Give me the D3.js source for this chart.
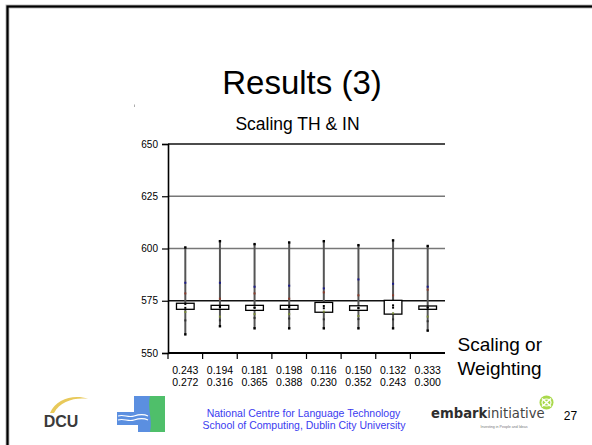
<!DOCTYPE html>
<html>
<head>
<meta charset="utf-8">
<script src="https://cdn.jsdelivr.net/npm/d3@7"></script>
<style>
  html, body { margin: 0; padding: 0; background: #fff; }
  svg { display: block; }
</style>
</head>
<body>
<svg id="slide" width="592" height="445"></svg>
<script>
// Scaling / weighting pairs shown under each box
const scalingLabels   = ["0.243", "0.194", "0.181", "0.198", "0.116", "0.150", "0.132", "0.333"];
const weightingLabels = ["0.272", "0.316", "0.365", "0.388", "0.230", "0.352", "0.243", "0.300"];

// Box plot summaries per configuration
const whiskerLow  = [558.9, 562.8, 561.8, 561.8, 561.8, 561.8, 561.8, 560.7];
const whiskerHigh = [600.5, 603.5, 602.1, 602.9, 603.5, 601.6, 603.9, 601.2];
const boxLow      = [570.9, 570.9, 570.4, 570.9, 569.5, 570.4, 568.6, 570.9];
const boxHigh     = [573.8, 572.8, 572.8, 572.8, 574.2, 572.6, 575.2, 572.5];
const medians     = [571.6, 571.8, 571.6, 571.8, 571.4, 571.4, 571.7, 571.6];
const means       = [573.4, 572.0, 571.8, 572.2, 572.5, 571.6, 572.8, 571.9];

// Individual run scores plotted along each whisker
const runsBlue  = [583.6, 583.6, 581.7, 582.2, 580.9, 585.2, 583.1, 581.7];
const runsRed   = [578.5, 576.0, 578.5, 576.0, 579.0, 577.6, 577.6, 580.3];
const runsGreen = [569.6, 567.4, 568.6, 568.6, 569.8, 567.7, 569.0, 567.4];
const runsDark  = [565.6, 565.6, 566.8, 566.5, 566.1, 566.2, 566.1, 565.2];

const yTicks = [550, 575, 600, 625, 650];

const svg = d3.select("#slide");
const FONT = "'Liberation Sans', Arial, Helvetica, sans-serif";

// Slide frame
svg.append("rect")
  .attr("x", 7.5).attr("y", 6.5).attr("width", 640).attr("height", 500)
  .attr("fill", "none").attr("stroke", "#bbb").attr("stroke-width", 4);
svg.append("rect")
  .attr("x", 7.5).attr("y", 6.5).attr("width", 640).attr("height", 500)
  .attr("fill", "none").attr("stroke", "#000").attr("stroke-width", 2.2);

// Titles
svg.append("text").attr("x", 302).attr("y", 93.5)
  .attr("text-anchor", "middle").attr("font-family", FONT)
  .attr("font-size", 33).attr("fill", "#000").text("Results (3)");
svg.append("text").attr("x", 297.5).attr("y", 130)
  .attr("text-anchor", "middle").attr("font-family", FONT)
  .attr("font-size", 17.5).attr("fill", "#000").text("Scaling TH & IN");

// stray mark
svg.append("rect").attr("x", 134).attr("y", 104.5).attr("width", 0.8).attr("height", 2.5).attr("fill", "#999");

// Scales
const idx = d3.range(scalingLabels.length);
const x = d3.scaleBand().domain(idx).range([168, 445]).padding(0);
const y = d3.scaleLinear().domain([550, 650]).range([353, 144]);

const plot = svg.append("g");

// Horizontal grid lines
plot.selectAll("line.grid").data(yTicks.filter(v => v > 550)).join("line")
  .attr("class", "grid")
  .attr("x1", 168).attr("x2", 445)
  .attr("y1", d => y(d)).attr("y2", d => y(d))
  .attr("stroke", d => (d === 575 || d === 650) ? "#111" : "#777")
  .attr("stroke-width", 1.4);

// Y axis
const yAxis = d3.axisLeft(y).tickValues(yTicks).tickSize(6).tickPadding(4).tickFormat(d3.format("d"));
const gy = svg.append("g").attr("transform", "translate(168,0)").call(yAxis);
gy.select(".domain").attr("stroke", "#000").attr("stroke-width", 1.6);
gy.selectAll(".tick line").attr("stroke", "#000").attr("stroke-width", 1.2);
gy.selectAll(".tick text").attr("font-family", FONT).attr("font-size", 10).attr("fill", "#000");

// X axis (ticks on band boundaries)
const gx = svg.append("g").attr("transform", "translate(0,353)");
gx.append("line").attr("x1", 168).attr("x2", 445).attr("stroke", "#000").attr("stroke-width", 2);
gx.selectAll("line.tk").data(idx).join("line").attr("class", "tk")
  .attr("x1", d => x(d)).attr("x2", d => x(d))
  .attr("y1", 0).attr("y2", 6).attr("stroke", "#000").attr("stroke-width", 1.2);
gx.selectAll("text.s").data(idx).join("text").attr("class", "s")
  .attr("x", d => x(d) + x.bandwidth() / 2).attr("y", 21)
  .attr("text-anchor", "middle").attr("font-family", FONT).attr("font-size", 10.5)
  .text(d => scalingLabels[d]);
gx.selectAll("text.w").data(idx).join("text").attr("class", "w")
  .attr("x", d => x(d) + x.bandwidth() / 2).attr("y", 32.5)
  .attr("text-anchor", "middle").attr("font-family", FONT).attr("font-size", 10.5)
  .text(d => weightingLabels[d]);

// Box plots
const cx = d => x(d) + x.bandwidth() / 2;
const bw = x.bandwidth() * 0.51;
const boxes = plot.selectAll("g.box").data(idx).join("g").attr("class", "box");

boxes.append("line")
  .attr("x1", cx).attr("x2", cx)
  .attr("y1", d => y(whiskerLow[d])).attr("y2", d => y(whiskerHigh[d]))
  .attr("stroke", "#555").attr("stroke-width", 2);

boxes.append("rect")
  .attr("x", d => cx(d) - bw / 2).attr("width", bw)
  .attr("y", d => y(boxHigh[d])).attr("height", d => y(boxLow[d]) - y(boxHigh[d]))
  .attr("fill", "#fff").attr("stroke", "#000").attr("stroke-width", 1.3);

// whisker end caps
[whiskerLow, whiskerHigh].forEach(arr => {
  boxes.append("rect")
    .attr("x", d => cx(d) - 1.2).attr("y", d => y(arr[d]) - 1.2)
    .attr("width", 2.4).attr("height", 2.4).attr("fill", "#000");
});

// run points
const runSets = [
  { vals: runsBlue,  color: "#1c1c8a" },
  { vals: runsRed,   color: "#8a3c2c" },
  { vals: runsGreen, color: "#7a8a3a" },
  { vals: runsDark,  color: "#333" },
  { vals: medians,   color: "#000" },
  { vals: means,     color: "#000" }
];
runSets.forEach(s => {
  boxes.append("rect")
    .attr("x", d => cx(d) - 1).attr("y", d => y(s.vals[d]) - 1)
    .attr("width", 2).attr("height", 2).attr("fill", s.color);
});

// Axis caption
const cap = svg.append("text").attr("font-family", FONT).attr("font-size", 19).attr("fill", "#000");
cap.append("tspan").attr("x", 457.5).attr("y", 351).text("Scaling or");
cap.append("tspan").attr("x", 457.5).attr("y", 374.5).text("Weighting");

// Footer: DCU logo
const dcu = svg.append("g");
dcu.append("path")
  .attr("d", "M50,413 C56,399 74,394 88,399 C76,397 60,401 54,413 Z")
  .attr("fill", "#e8c95a");
dcu.append("text").attr("x", 61).attr("y", 427).attr("text-anchor", "middle")
  .attr("font-family", FONT).attr("font-weight", "bold").attr("font-size", 16)
  .attr("fill", "#3a3a3a").text("DCU");

// Footer: NCLT logo
const nl = svg.append("g");
nl.append("rect").attr("x", 133).attr("y", 396).attr("width", 18).attr("height", 7).attr("fill", "#fff");
nl.append("path").attr("d", "M134,396 L152,396 L151,432 L138,432 L138,425 L117,425 L117,412 L134,412 Z").attr("fill", "#5b8fe0");
nl.append("path").attr("d", "M150,396 L165,396 L165,432 L150,432 C153,420 147,408 150,396 Z").attr("fill", "#4fbf6a");
nl.append("path").attr("d", "M118,416 C124,414 128,418 134,416 S144,414 148,416").attr("fill", "none").attr("stroke", "#fff").attr("stroke-width", 1.2);
nl.append("path").attr("d", "M118,420 C124,418 128,422 134,420 S144,418 148,420").attr("fill", "none").attr("stroke", "#fff").attr("stroke-width", 1.2);

// Footer: centre name
const ft = svg.append("text").attr("text-anchor", "middle").attr("font-family", FONT)
  .attr("font-size", 10.5).attr("fill", "#3b3bf0");
ft.append("tspan").attr("x", 303.5).attr("y", 416.5).text("National Centre for Language Technology");
ft.append("tspan").attr("x", 304).attr("y", 429).text("School of Computing, Dublin City University");

// Footer: embark initiative logo
const em = svg.append("g");
em.append("circle").attr("cx", 546.5).attr("cy", 402.5).attr("r", 7).attr("fill", "#a9d94b");
em.append("path").attr("d", "M542,398.5 L551,406.5 M551,398.5 L542,406.5").attr("stroke", "#fff").attr("stroke-width", 1.6);
em.append("ellipse").attr("cx", 546.5).attr("cy", 402.5).attr("rx", 4.5).attr("ry", 3.5).attr("fill", "none").attr("stroke", "#fff").attr("stroke-width", 1.2);
const et = em.append("text").attr("x", 431).attr("y", 418).attr("font-family", "'DejaVu Sans', sans-serif").attr("font-size", 13.2);
et.append("tspan").attr("font-weight", "bold").attr("fill", "#2e2e2e").text("embark");
et.append("tspan").attr("fill", "#444").text("initiative");
em.append("text").attr("x", 504).attr("y", 427.5).attr("text-anchor", "middle")
  .attr("font-family", FONT).attr("font-size", 3.6).attr("fill", "#777").text("Investing in People and Ideas");

// Slide number
svg.append("text").attr("x", 570.5).attr("y", 420).attr("text-anchor", "middle")
  .attr("font-family", FONT).attr("font-size", 12).attr("fill", "#000").text("27");
</script>
</body>
</html>
